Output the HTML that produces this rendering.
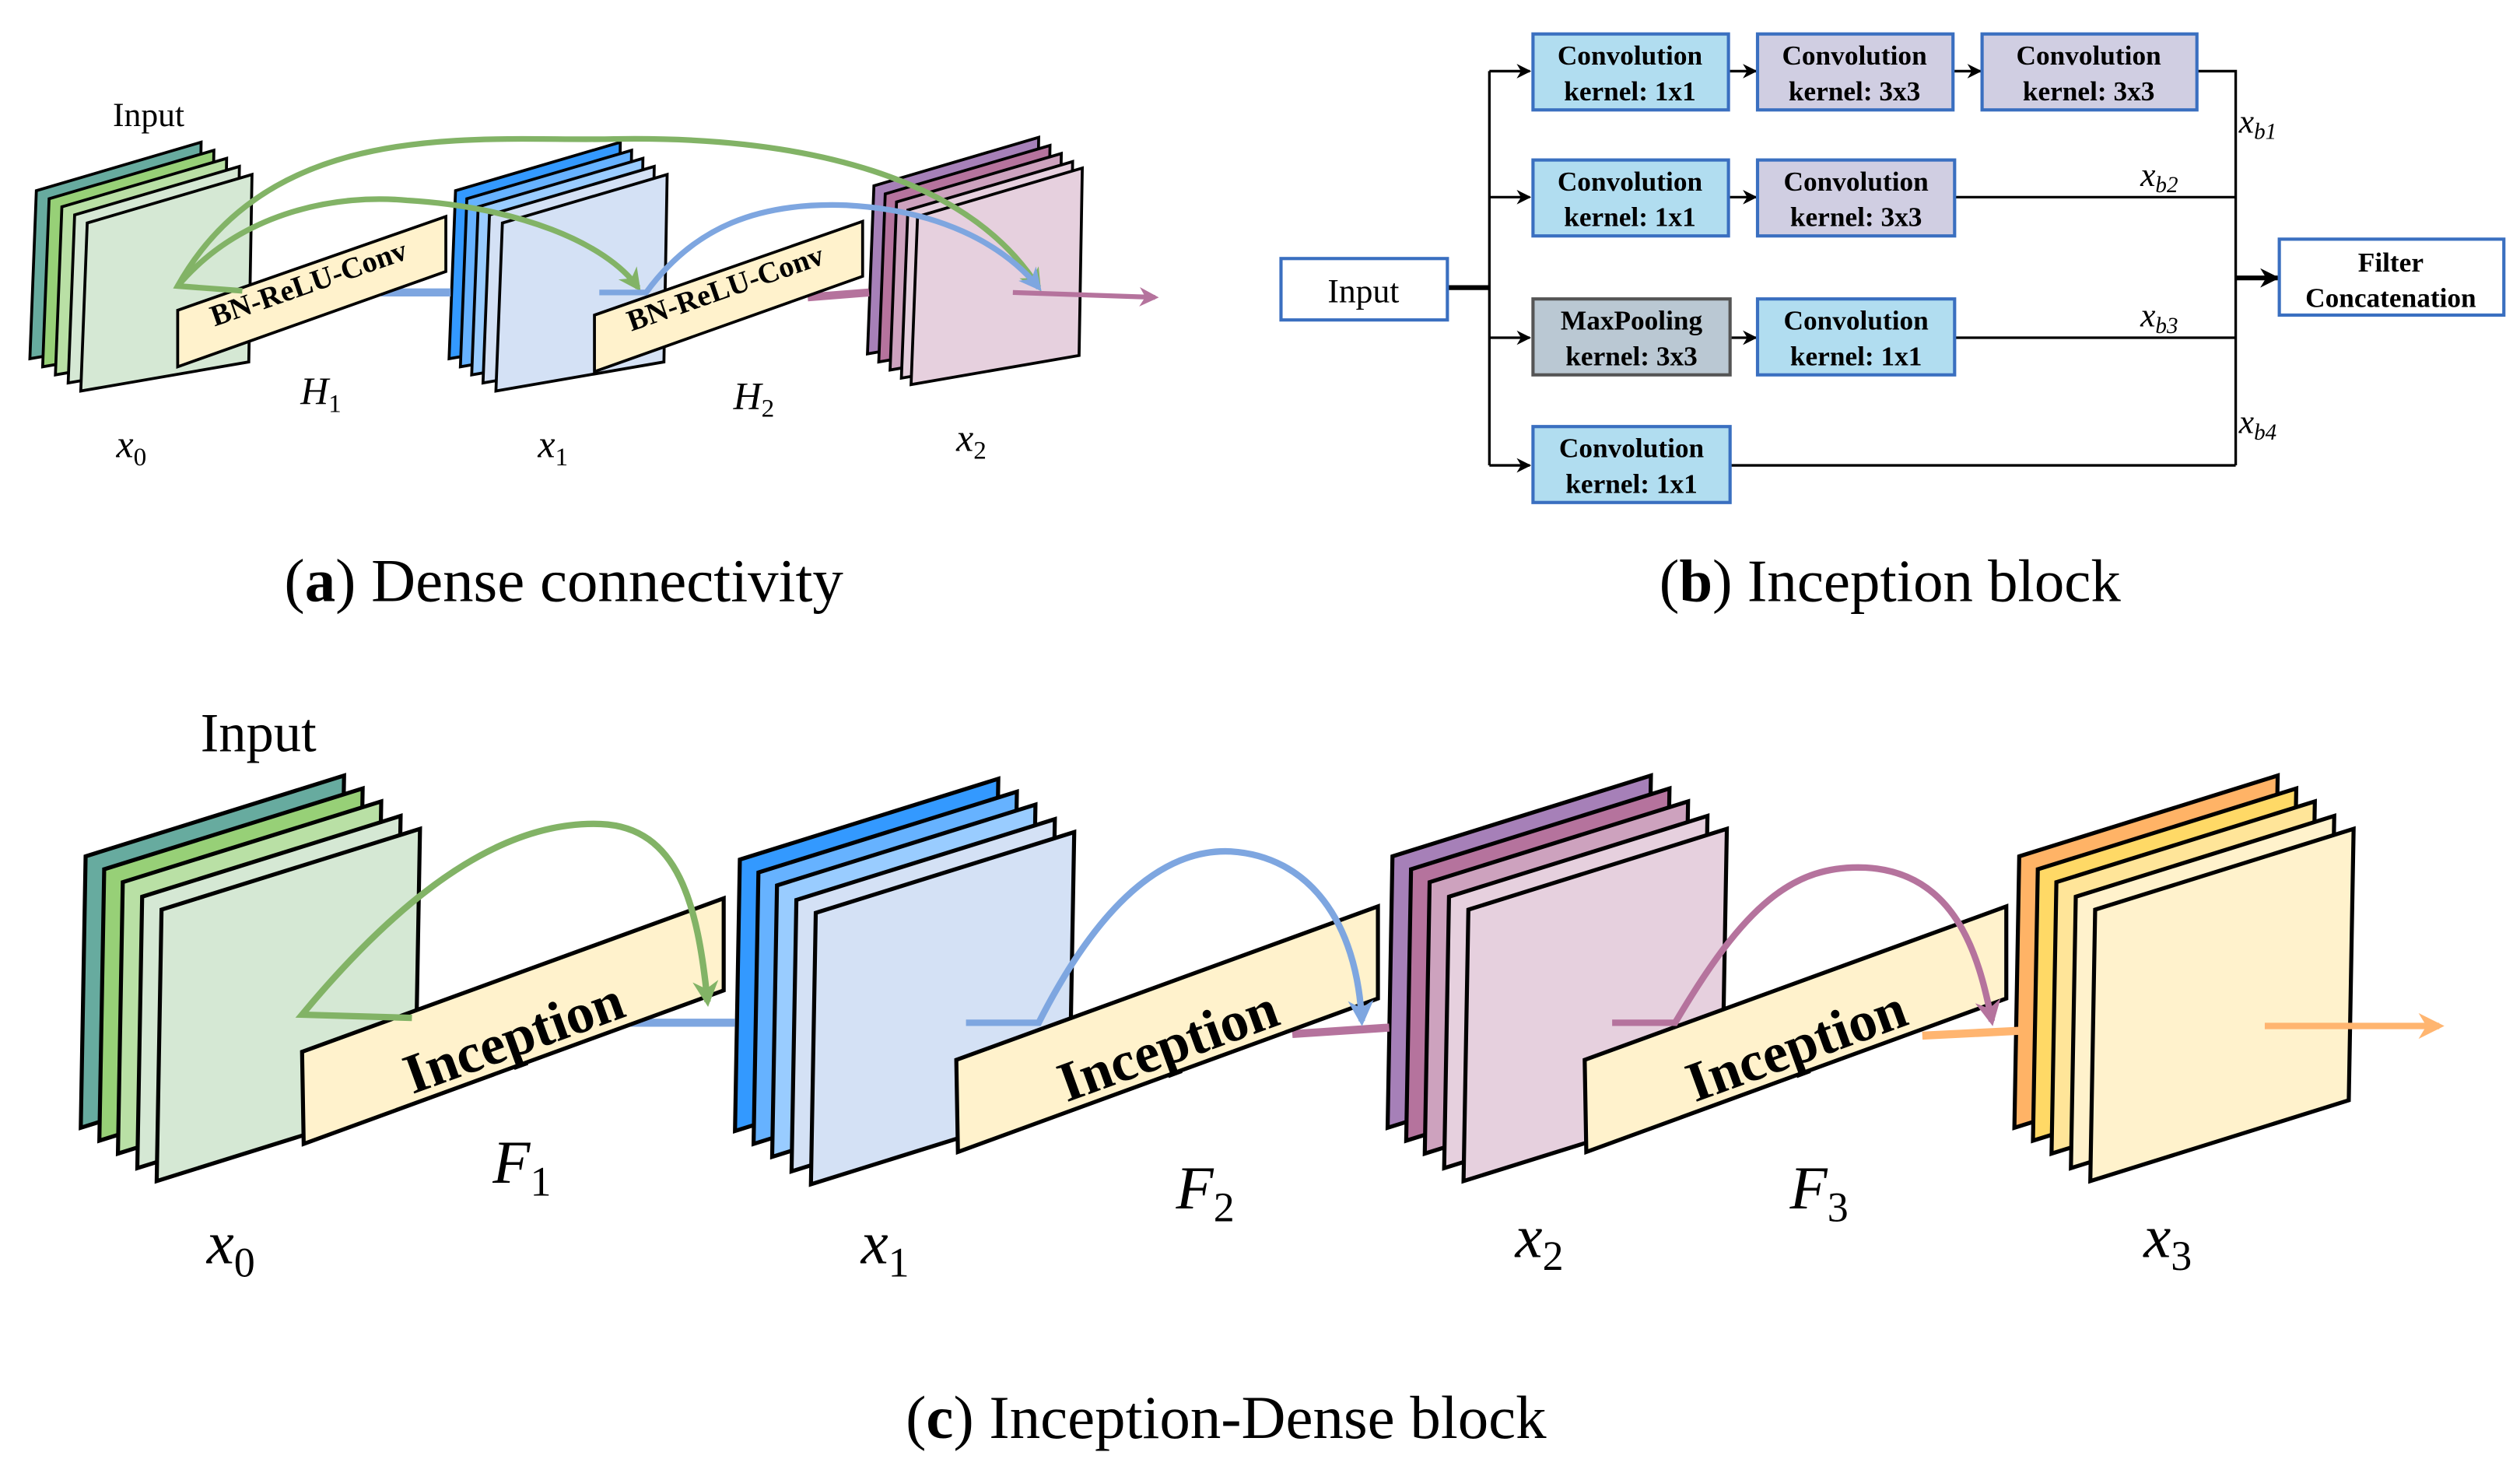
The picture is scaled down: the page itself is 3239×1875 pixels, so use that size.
<!DOCTYPE html>
<html><head><meta charset="utf-8"><style>
html,body{margin:0;padding:0;background:#fff;}
svg{display:block;}
text{font-family:"Liberation Serif",serif;}
</style></head><body>
<svg width="3239" height="1875" viewBox="0 0 1560 903" xmlns="http://www.w3.org/2000/svg">
<defs>
<polygon id="bs" points="0,0 160,-50 157,118 -3,168" stroke="#000" stroke-width="2.5" stroke-linejoin="miter"/>
<polygon id="ss" points="0,0 102,-30 100,86 -4,104" stroke="#000" stroke-width="1.8"/>
<polygon id="ib" points="0,0 261,-95 261,-38 1,57" fill="#fff2cc" stroke="#000" stroke-width="2.5"/>
<polygon id="sb" points="0,0 166,-58 166,-24 0,35" fill="#fff2cc" stroke="#000" stroke-width="1.8"/>
<marker id="ag" viewBox="0 0 10 10" refX="8" refY="5" markerWidth="4" markerHeight="4" orient="auto" markerUnits="strokeWidth"><path d="M0,0 L10,5 L0,10 L3,5z" fill="#82b366"/></marker>
<marker id="ab" viewBox="0 0 10 10" refX="8" refY="5" markerWidth="4" markerHeight="4" orient="auto" markerUnits="strokeWidth"><path d="M0,0 L10,5 L0,10 L3,5z" fill="#7ea6e0"/></marker>
<marker id="ap" viewBox="0 0 10 10" refX="8" refY="5" markerWidth="4" markerHeight="4" orient="auto" markerUnits="strokeWidth"><path d="M0,0 L10,5 L0,10 L3,5z" fill="#b5739d"/></marker>
<marker id="ao" viewBox="0 0 10 10" refX="8" refY="5" markerWidth="4" markerHeight="4" orient="auto" markerUnits="strokeWidth"><path d="M0,0 L10,5 L0,10 L3,5z" fill="#ffb570"/></marker>
<marker id="ak" viewBox="0 0 10 10" refX="9" refY="5" markerWidth="9" markerHeight="9" orient="auto" markerUnits="userSpaceOnUse"><path d="M0,0 L10,5 L0,10 L3,5z" fill="#000"/></marker>
<marker id="ak2" viewBox="0 0 10 10" refX="9" refY="5" markerWidth="12" markerHeight="12" orient="auto" markerUnits="userSpaceOnUse"><path d="M0,0 L10,5 L0,10 L3,5z" fill="#000"/></marker>
</defs>

<!-- ===== (a) ===== -->
<text x="92" y="78" font-size="21" text-anchor="middle">Input</text>
<g>
<use href="#ss" x="22.5" y="118" fill="#67ab9f"/>
<use href="#ss" x="30.4" y="123" fill="#97d077"/>
<use href="#ss" x="38.3" y="128" fill="#b9e0a5"/>
<use href="#ss" x="46.2" y="133" fill="#d5e8d4"/>
<use href="#ss" x="54" y="138" fill="#d5e8d4"/>
</g>
<g>
<use href="#ss" x="282" y="118" fill="#3399ff"/>
<use href="#ss" x="289" y="123" fill="#66b2ff"/>
<use href="#ss" x="296" y="128" fill="#99ccff"/>
<use href="#ss" x="303" y="133" fill="#d4e1f5"/>
<use href="#ss" x="311" y="138" fill="#d4e1f5"/>
</g>
<g>
<use href="#ss" x="541" y="115" fill="#a680b8"/>
<use href="#ss" x="548" y="120" fill="#b5739d"/>
<use href="#ss" x="555" y="125" fill="#cda2be"/>
<use href="#ss" x="562" y="130" fill="#e6d0de"/>
<use href="#ss" x="568" y="134" fill="#e6d0de"/>
</g>
<path d="M236,181 L279,181" stroke="#7ea6e0" stroke-width="5" fill="none"/>
<path d="M500,184 L538,181" stroke="#b5739d" stroke-width="5" fill="none"/>
<use href="#sb" x="110" y="192"/>
<use href="#sb" x="368" y="195"/>
<text transform="translate(193,181) rotate(-19.3)" font-size="18.5" font-weight="bold" text-anchor="middle">BN-ReLU-Conv</text>
<text transform="translate(451,184) rotate(-19.3)" font-size="18.5" font-weight="bold" text-anchor="middle">BN-ReLU-Conv</text>
<path d="M150,180 L110,177 C170,70 300,88 380,86 C500,84 600,110 643,178" stroke="#82b366" stroke-width="3.5" fill="none" marker-end="url(#ag)"/>
<path d="M110,177 C150,130 210,120 252,124 C320,128 375,150 395,178" stroke="#82b366" stroke-width="3.5" fill="none" marker-end="url(#ag)"/>
<path d="M371,181 L400,181 C430,140 470,125 524,127 C580,130 620,150 643,178" stroke="#7ea6e0" stroke-width="3.5" fill="none" marker-end="url(#ab)"/>
<path d="M627,181 L715,184" stroke="#b5739d" stroke-width="3" fill="none" marker-end="url(#ap)"/>
<g font-size="24" font-style="italic">
<text x="186" y="250">H<tspan font-size="16" dy="5" font-style="normal">1</tspan></text>
<text x="454" y="253">H<tspan font-size="16" dy="5" font-style="normal">2</tspan></text>
<text x="72" y="283">x<tspan font-size="16" dy="5" font-style="normal">0</tspan></text>
<text x="333" y="283">x<tspan font-size="16" dy="5" font-style="normal">1</tspan></text>
<text x="592" y="279">x<tspan font-size="16" dy="5" font-style="normal">2</tspan></text>
</g>
<text x="349" y="372" font-size="38" text-anchor="middle">(<tspan font-weight="bold">a</tspan>) Dense connectivity</text>

<!-- ===== (b) ===== -->
<g stroke="#000" stroke-width="1.6" fill="none">
<path d="M896,178 L922,178" stroke-width="3"/>
<path d="M922,44 L922,288"/>
<path d="M922,44 L947,44" marker-end="url(#ak)"/>
<path d="M922,122 L947,122" marker-end="url(#ak)"/>
<path d="M922,209 L947,209" marker-end="url(#ak)"/>
<path d="M922,288 L947,288" marker-end="url(#ak)"/>
<path d="M1070,44 L1087,44" marker-end="url(#ak)"/>
<path d="M1209,44 L1226,44" marker-end="url(#ak)"/>
<path d="M1070,122 L1087,122" marker-end="url(#ak)"/>
<path d="M1071,209 L1087,209" marker-end="url(#ak)"/>
<path d="M1360,44 L1384,44 L1384,288"/>
<path d="M1210,122 L1384,122"/>
<path d="M1210,209 L1384,209"/>
<path d="M1071,288 L1384,288"/>
<path d="M1384,172 L1410,172" stroke-width="3" marker-end="url(#ak2)"/>
</g>
<g stroke="#3a6fc0" stroke-width="2">
<rect x="793" y="160" width="103" height="38" fill="#fff"/>
<rect x="1411" y="148" width="139" height="47" fill="#fff"/>
<rect x="949" y="21" width="121" height="47" fill="#b1ddf0"/>
<rect x="1088" y="21" width="121" height="47" fill="#d0cee2"/>
<rect x="1227" y="21" width="133" height="47" fill="#d0cee2"/>
<rect x="949" y="99" width="121" height="47" fill="#b1ddf0"/>
<rect x="1088" y="99" width="122" height="47" fill="#d0cee2"/>
<rect x="949" y="185" width="122" height="47" fill="#bac8d3" stroke="#555"/>
<rect x="1088" y="185" width="122" height="47" fill="#b1ddf0"/>
<rect x="949" y="264" width="122" height="47" fill="#b1ddf0"/>
</g>
<g font-size="17" font-weight="bold" text-anchor="middle">
<text x="844" y="187" font-weight="normal" font-size="21">Input</text>
<text x="1480" y="168">Filter</text><text x="1480" y="190">Concatenation</text>
<text x="1009" y="40">Convolution</text><text x="1009" y="62">kernel: 1x1</text>
<text x="1148" y="40">Convolution</text><text x="1148" y="62">kernel: 3x3</text>
<text x="1293" y="40">Convolution</text><text x="1293" y="62">kernel: 3x3</text>
<text x="1009" y="118">Convolution</text><text x="1009" y="140">kernel: 1x1</text>
<text x="1149" y="118">Convolution</text><text x="1149" y="140">kernel: 3x3</text>
<text x="1010" y="204">MaxPooling</text><text x="1010" y="226">kernel: 3x3</text>
<text x="1149" y="204">Convolution</text><text x="1149" y="226">kernel: 1x1</text>
<text x="1010" y="283">Convolution</text><text x="1010" y="305">kernel: 1x1</text>
</g>
<g font-size="21" font-style="italic">
<text x="1386" y="82">x<tspan font-size="14" dy="4">b1</tspan></text>
<text x="1325" y="115">x<tspan font-size="14" dy="4">b2</tspan></text>
<text x="1325" y="202">x<tspan font-size="14" dy="4">b3</tspan></text>
<text x="1386" y="268">x<tspan font-size="14" dy="4">b4</tspan></text>
</g>
<text x="1170" y="372" font-size="37" text-anchor="middle">(<tspan font-weight="bold">b</tspan>) Inception block</text>

<!-- ===== (c) ===== -->
<text x="160" y="465" font-size="34" text-anchor="middle">Input</text>
<g>
<use href="#bs" x="53" y="530" fill="#67ab9f"/>
<use href="#bs" x="64.5" y="538" fill="#97d077"/>
<use href="#bs" x="76" y="546" fill="#b9e0a5"/>
<use href="#bs" x="88" y="555" fill="#d5e8d4"/>
<use href="#bs" x="100" y="563" fill="#d5e8d4"/>
</g>
<g>
<use href="#bs" x="458" y="532" fill="#3399ff"/>
<use href="#bs" x="469.5" y="540" fill="#66b2ff"/>
<use href="#bs" x="481" y="548" fill="#99ccff"/>
<use href="#bs" x="493" y="557" fill="#d4e1f5"/>
<use href="#bs" x="505" y="565" fill="#d4e1f5"/>
</g>
<g>
<use href="#bs" x="862" y="530" fill="#a680b8"/>
<use href="#bs" x="873.5" y="538" fill="#b5739d"/>
<use href="#bs" x="885" y="546" fill="#cda2be"/>
<use href="#bs" x="897" y="555" fill="#e6d0de"/>
<use href="#bs" x="909" y="563" fill="#e6d0de"/>
</g>
<g>
<use href="#bs" x="1250" y="530" fill="#ffb366"/>
<use href="#bs" x="1261.5" y="538" fill="#ffd966"/>
<use href="#bs" x="1273" y="546" fill="#ffe599"/>
<use href="#bs" x="1285" y="555" fill="#fff2cc"/>
<use href="#bs" x="1297" y="563" fill="#fff2cc"/>
</g>
<path d="M387,633 L455,633" stroke="#7ea6e0" stroke-width="5" fill="none"/>
<path d="M800,640 L860,636" stroke="#b5739d" stroke-width="5" fill="none"/>
<path d="M1190,641 L1250,638" stroke="#ffb570" stroke-width="5" fill="none"/>
<use href="#ib" x="187" y="651"/>
<use href="#ib" x="592" y="656"/>
<use href="#ib" x="981" y="656"/>
<text transform="translate(322,653) rotate(-20)" font-size="35" font-weight="bold" text-anchor="middle">Inception</text>
<text transform="translate(727,658) rotate(-20)" font-size="35" font-weight="bold" text-anchor="middle">Inception</text>
<text transform="translate(1116,658) rotate(-20)" font-size="35" font-weight="bold" text-anchor="middle">Inception</text>
<path d="M255,630 L187,628 C260,540 320,508 372,510 C420,512 432,560 438,620" stroke="#82b366" stroke-width="4" fill="none" marker-end="url(#ag)"/>
<path d="M598,633 L643,633 C680,560 720,525 762,527 C810,530 840,570 843,632" stroke="#7ea6e0" stroke-width="4" fill="none" marker-end="url(#ab)"/>
<path d="M998,633 L1037,633 C1080,560 1110,535 1155,537 C1210,540 1225,590 1233,632" stroke="#b5739d" stroke-width="4" fill="none" marker-end="url(#ap)"/>
<path d="M1402,635 L1510,635" stroke="#ffb570" stroke-width="4" fill="none" marker-end="url(#ao)"/>
<g font-size="38" font-style="italic">
<text x="305" y="732">F<tspan font-size="26" font-style="normal" dy="8">1</tspan></text>
<text x="728" y="748">F<tspan font-size="26" font-style="normal" dy="8">2</tspan></text>
<text x="1108" y="748">F<tspan font-size="26" font-style="normal" dy="8">3</tspan></text>
<text x="128" y="782">x<tspan font-size="26" font-style="normal" dy="8">0</tspan></text>
<text x="533" y="782">x<tspan font-size="26" font-style="normal" dy="8">1</tspan></text>
<text x="938" y="778">x<tspan font-size="26" font-style="normal" dy="8">2</tspan></text>
<text x="1327" y="778">x<tspan font-size="26" font-style="normal" dy="8">3</tspan></text>
</g>
<text x="759" y="890" font-size="38" text-anchor="middle">(<tspan font-weight="bold">c</tspan>) Inception-Dense block</text>
</svg>
</body></html>
